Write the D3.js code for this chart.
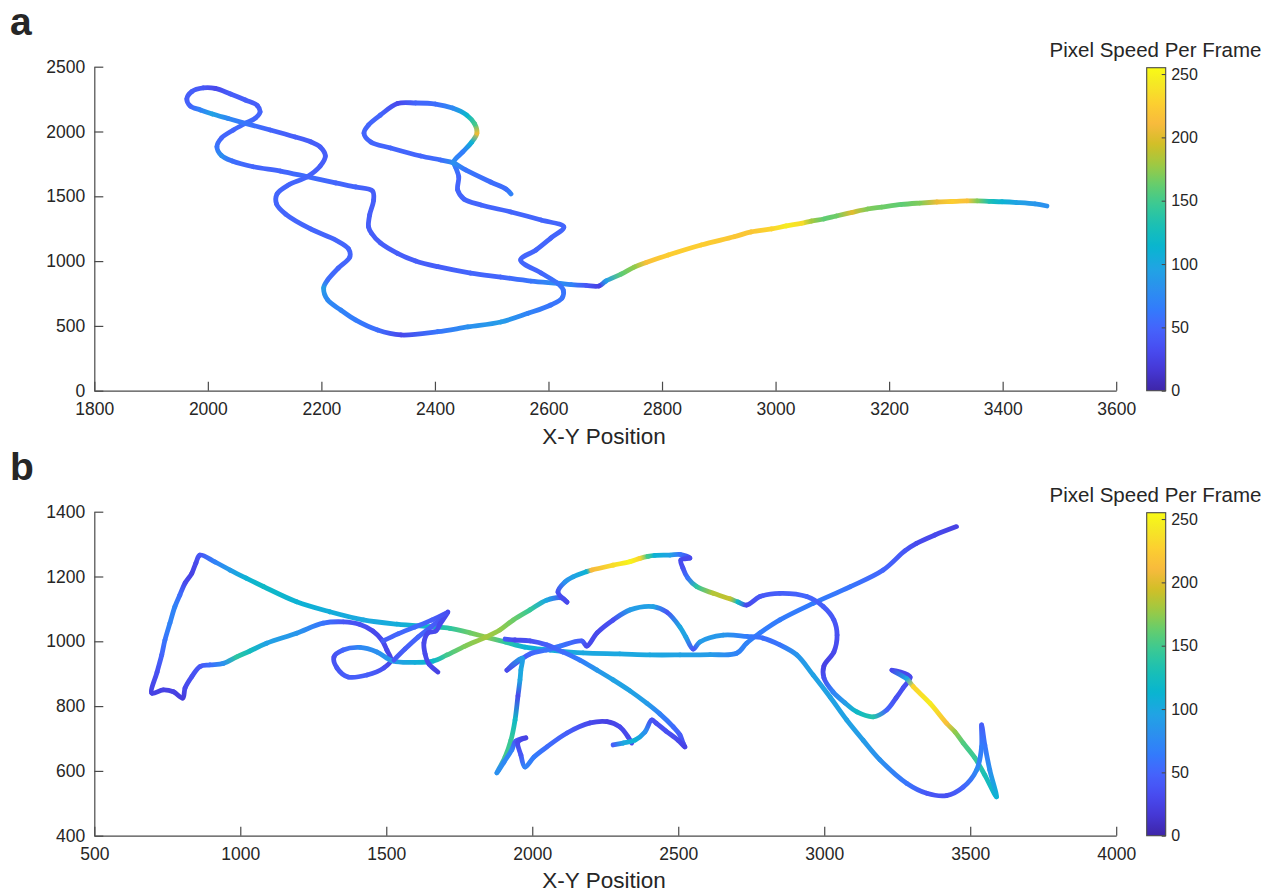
<!DOCTYPE html>
<html><head><meta charset="utf-8">
<script src="https://cdn.jsdelivr.net/npm/d3@7"></script>
<style>
body{margin:0;background:#fff;}
svg text{font-family:"Liberation Sans",Arial,Helvetica,sans-serif;fill:#262626;}
</style></head><body>
<svg id="chart" width="1282" height="892"></svg>
<script>
// ---------------- data ----------------
const speedTicks = [0, 50, 100, 150, 200, 250];
const speedMax = 255;
const aXTicks = [1800, 2000, 2200, 2400, 2600, 2800, 3000, 3200, 3400, 3600];
const aYTicks = [0, 500, 1000, 1500, 2000, 2500];
const bXTicks = [500, 1000, 1500, 2000, 2500, 3000, 3500, 4000];
const bYTicks = [400, 600, 800, 1000, 1200, 1400];

// panel a trajectory
const aX = [3478,3457,3425,3399,3376,3355,3337,3310,3284,3254,
3222,3187,3162,3134,3107,3085,3063,3046,3019,2993,
2957,2927,2869,2811,2772,2751,2728,2701,2689,2666,
2640,2616,2569,2516,2463,2405,2366,2334,2304,2288,
2283,2285,2292,2290,2260,2225,2175,2128,2080,2043,
2024,2016,2024,2045,2066,2084,2092,2087,2066,2040,
2013,1992,1972,1963,1969,1987,2008,2036,2066,2110,
2154,2181,2198,2207,2198,2175,2142,2122,2121,2137,
2181,2225,2248,2250,2230,2211,2204,2211,2234,2260,
2299,2340,2405,2458,2516,2564,2604,2624,2626,2616,
2587,2551,2578,2604,2627,2587,2534,2481,2451,2440,
2442,2437,2433,2449,2465,2474,2470,2456,2431,2401,
2366,2334,2304,2283,2275,2287,2322,2375,2410,2433,
2454,2498,2525,2534];
const aY = [1425,1441,1452,1458,1461,1464,1464,1460,1456,1448,
1437,1417,1402,1375,1348,1325,1309,1292,1271,1248,
1225,1188,1124,1047,989,954,900,846,808,812,
819,829,846,877,908,957,1001,1060,1140,1217,
1265,1356,1471,1541,1572,1603,1651,1695,1728,1772,
1815,1883,1950,2012,2063,2104,2150,2201,2243,2289,
2332,2336,2309,2251,2197,2166,2135,2100,2063,2012,
1958,1921,1880,1811,1734,1651,1587,1518,1441,1363,
1248,1163,1093,1032,947,854,792,700,623,546,
468,430,455,492,530,597,661,715,777,829,
908,1008,1086,1178,1263,1317,1379,1433,1479,1549,
1649,1718,1765,1842,1919,1988,2058,2127,2181,2212,
2220,2216,2127,2050,1988,1919,1873,1811,1780,1757,
1703,1610,1556,1518];
const aSpeed = [80,85,95,110,130,170,215,225,205,170,
160,165,170,200,165,160,180,235,245,230,
220,220,225,225,215,175,160,90,25,40,
70,80,60,50,50,45,45,45,45,45,
45,45,45,45,50,50,55,50,50,55,
80,60,50,50,55,50,50,45,45,45,
30,40,45,45,50,70,95,75,60,50,
45,45,45,45,45,50,50,50,50,50,
50,50,50,50,50,55,90,75,70,65,
55,30,60,80,90,70,60,60,60,60,
50,50,50,50,50,50,50,50,50,50,
50,60,75,65,110,205,150,115,75,55,
50,30,50,50,50,50,50,50,55,80,
60,55,55,70];

// panel b trajectory (bTrack = id of the continuous piece each point belongs to)
const bX = [3453,3379,3316,3276,3202,3088,2962,2848,2780,2734,
2700,2609,2506,2403,2300,2174,2061,1975,1907,1841,
1787,1718,1650,1536,1421,1307,1193,1079,1020,965,
913,862,848,834,811,793,776,759,742,731,
715,697,736,771,803,811,834,862,896,942,
988,1033,1090,1193,1284,1353,1410,1454,1485,1502,
1516,1492,1434,1369,1331,1321,1352,1410,1468,1523,
1598,1660,1708,1770,1841,1889,1935,1992,2049,2102,
2119,2088,2112,2140,2186,2204,2277,2335,2369,2396,
2420,2472,2506,2540,2509,2516,2533,2563,2620,2677,
2705,2734,2780,2848,2940,2997,3033,3044,3033,2999,
2999,3030,3071,3112,3168,3214,3246,3270,3294,3232,
3283,3305,3362,3419,3448,3476,3516,3550,3590,3567,
3550,3539,3539,3522,3476,3419,3351,3282,3191,3133,
3077,3020,2962,2906,2848,2790,2735,2654,2574,2551,
2526,2506,2461,2414,2335,2277,2222,2187,2170,2095,
2049,1992,1913,1965,1961,1958,1951,1941,1927,1907,
1879,1903,1930,1944,1978,1951,1961,1975,2006,2050,
2119,2198,2256,2300,2328,2341,
1907,1941,1992,2049,2105,2163,2222,2277,2335,2392,2437,2483,2506,2517,2523,2499,2458,2424,2409,2386,2352,2311,2277,
1526,1564,1609,1657,1694,1711,1684,1670,1643,1629,1633,1646,1677,
1489,1540,1598,1657,1705];
const bY = [1354,1328,1302,1279,1220,1168,1117,1066,1026,994,
963,959,958,958,961,964,973,982,998,1013,
1026,1040,1045,1053,1066,1091,1122,1169,1195,1220,
1245,1266,1242,1210,1180,1143,1107,1056,1004,958,
905,840,850,844,825,856,891,922,927,932,
952,970,994,1025,1056,1060,1052,1032,1004,973,
942,918,896,890,918,952,973,981,967,939,
935,939,958,985,1013,1035,1066,1097,1127,1134,
1121,1152,1183,1199,1215,1220,1235,1246,1256,1262,
1265,1266,1268,1257,1251,1226,1195,1169,1148,1131,
1121,1112,1138,1148,1138,1107,1066,1019,967,924,
887,844,810,782,767,788,825,856,890,911,
884,860,809,747,720,686,640,587,520,603,
680,742,674,603,550,524,531,562,634,695,
757,828,896,958,989,1010,1015,1019,998,976,
1013,1044,1090,1107,1097,1066,1026,985,1001,985,
973,961,911,948,911,881,831,757,695,643,
594,627,665,692,702,689,649,612,643,674,
717,748,752,736,705,686,
1007,1004,1001,989,967,942,911,881,847,809,776,736,711,685,674,695,723,748,757,720,695,686,680,
942,976,1013,1047,1075,1090,1053,1032,1026,995,961,930,905,
1001,1023,1044,1066,1087];
const bSpeed = [25,30,30,40,50,60,65,65,65,70,
70,90,95,100,100,100,105,110,140,175,
165,140,120,105,100,105,110,120,110,90,
70,40,30,25,30,55,70,70,60,50,
35,25,25,25,20,30,35,40,55,80,
140,125,95,85,60,40,35,30,30,30,
25,35,45,45,40,35,50,75,80,90,
105,115,150,170,180,175,165,145,100,40,
30,35,80,95,110,210,235,250,230,150,
110,95,60,30,30,35,60,140,185,190,
120,30,40,45,50,45,40,35,30,25,
35,70,90,120,135,50,35,35,30,30,
100,230,245,215,175,155,145,130,110,80,
60,45,65,75,50,35,40,60,80,90,
95,95,95,85,60,55,65,85,90,40,
95,100,40,95,90,35,30,30,45,60,
60,50,30,90,100,100,30,120,145,150,
80,75,70,40,25,30,40,70,65,55,
45,30,25,30,30,30,
40,30,35,45,55,65,85,95,95,90,70,55,45,35,25,30,35,35,35,80,110,100,45,
40,45,50,45,35,30,30,30,30,30,30,30,25,
45,50,55,45,35];
const bTrack = [].concat(
  new Array(186).fill(0), new Array(23).fill(1), new Array(13).fill(2), new Array(5).fill(3));

// parula colormap (MATLAB), sampled rows of the 64-entry map
const parulaRows = [1,5,9,13,17,21,25,29,33,37,41,45,49,53,57,61,64];
const parulaHex = ["#3e26a8","#4537d5","#484cf0","#4563fc","#327cfc","#2b91ee","#20a5e3","#08b5d0",
                   "#19bfb6","#37c897","#63cd6f","#9dc943","#d1bf27","#f8ba3d","#fccf30","#f5e924","#f9fb15"];

// ---------------- drawing ----------------
const svg = d3.select("#chart");
const defs = svg.append("defs");
const color = d3.scaleLinear()
  .domain(parulaRows.map(r => (r - 1) / 63 * speedMax))
  .range(parulaHex).clamp(true);

const L = 94.3, R = 1116.2;
const axisColor = "#4a4a4a";

const panels = [
  {name:"a", xs:aX, ys:aY, ss:aSpeed, ids:null, xd:[1800,3600], yd:[0,2500],
   xt:aXTicks, yt:aYTicks, top:66.7, bottom:390.7, labelY:35, titleY:57, xlabY:444},
  {name:"b", xs:bX, ys:bY, ss:bSpeed, ids:bTrack, xd:[500,4000], yd:[400,1400],
   xt:bXTicks, yt:bYTicks, top:511.7, bottom:835.7, labelY:480, titleY:502, xlabY:888}
];

panels.forEach((p, pi) => {
  const x = d3.scaleLinear().domain(p.xd).range([L, R]);
  const y = d3.scaleLinear().domain(p.yd).range([p.bottom, p.top]);
  const g = svg.append("g");

  // axes
  const xa = g.append("g").attr("transform", `translate(0,${p.bottom})`)
    .call(d3.axisBottom(x).tickValues(p.xt).tickFormat(d3.format("d")).tickSize(-9).tickSizeOuter(0).tickPadding(11.5));
  const ya = g.append("g").attr("transform", `translate(${L},0)`)
    .call(d3.axisLeft(y).tickValues(p.yt).tickFormat(d3.format("d")).tickSize(-9).tickSizeOuter(0).tickPadding(9));
  [xa, ya].forEach(a => {
    a.attr("font-family", null).attr("font-size", null);
    a.selectAll("path.domain").attr("stroke", axisColor).attr("stroke-width", 1.2);
    a.selectAll(".tick line").attr("stroke", axisColor).attr("stroke-width", 1.2);
    a.selectAll(".tick text").style("font-size", "17.5px").attr("fill", "#2b2b2b");
  });

  // x label
  g.append("text").attr("x", 604).attr("y", p.xlabY).attr("text-anchor", "middle")
    .style("font-size", "22.5px").text("X-Y Position");
  // panel label
  g.append("text").attr("x", 10).attr("y", p.labelY)
    .style("font-size", "39px").style("font-weight", "bold").attr("fill", "#000").text(p.name);

  // trajectory
  const tg = g.append("g").attr("fill", "none").attr("stroke-linecap", "round").attr("stroke-linejoin", "round");
  const idx = d3.range(p.xs.length);
  const groups = d3.groups(idx, i => p.ids ? p.ids[i] : 0);
  const line = d3.line().curve(d3.curveCatmullRom.alpha(0.5));
  groups.forEach(([id, ii]) => {
    const pts = ii.map(i => [x(p.xs[i]), y(p.ys[i])]);
    const sp = ii.map(i => p.ss[i]);
    const d = line(pts);
    const parts = d.split("C");
    let prev = parts[0].slice(1);
    parts.slice(1).forEach((part, k) => {
      const nums = part.split(",").map(Number);
      const end = nums[4] + "," + nums[5];
      const [x0, y0] = pts[k], [x1, y1] = pts[k + 1];
      const c0 = color(sp[k]), c1 = color(sp[k + 1]);
      let stroke = c0;
      if (Math.hypot(x1 - x0, y1 - y0) > 0.01 && c0 !== c1) {
        const gid = `grad${pi}_${id}_${k}`;
        const lg = defs.append("linearGradient").attr("id", gid).attr("gradientUnits", "userSpaceOnUse")
          .attr("x1", x0).attr("y1", y0).attr("x2", x1).attr("y2", y1);
        lg.append("stop").attr("offset", 0).attr("stop-color", c0);
        lg.append("stop").attr("offset", 1).attr("stop-color", c1);
        stroke = `url(#${gid})`;
      }
      tg.append("path").attr("d", "M" + prev + "C" + part).attr("stroke", stroke).attr("stroke-width", 4.8);
      prev = end;
    });
  });

  // colorbar
  const cbX = 1146.7, cbW = 19;
  const cbTop = p.top + 1, cbBot = p.bottom;
  const cs = d3.scaleLinear().domain([0, speedMax]).range([cbBot, cbTop]);
  const cg = defs.append("linearGradient").attr("id", "cb" + pi)
    .attr("x1", 0).attr("y1", 1).attr("x2", 0).attr("y2", 0);
  d3.range(0, 65).forEach(i => {
    const v = i / 64 * speedMax;
    cg.append("stop").attr("offset", i / 64).attr("stop-color", color(v));
  });
  g.append("rect").attr("x", cbX).attr("y", cbTop).attr("width", cbW).attr("height", cbBot - cbTop)
    .attr("fill", `url(#cb${pi})`).attr("stroke", axisColor).attr("stroke-width", 1.1);
  const ca = g.append("g").attr("transform", `translate(${cbX + cbW},0)`)
    .call(d3.axisRight(cs).tickValues(speedTicks).tickSize(-4).tickSizeOuter(0).tickPadding(5.5));
  ca.attr("font-family", null).attr("font-size", null);
  ca.select("path.domain").remove();
  ca.selectAll(".tick line").attr("stroke", axisColor).attr("stroke-width", 1.1);
  ca.selectAll(".tick text").style("font-size", "16px").attr("fill", "#2b2b2b");
  g.append("text").attr("x", 1155.5).attr("y", p.titleY).attr("text-anchor", "middle")
    .style("font-size", "20.5px").text("Pixel Speed Per Frame");
});
</script>
</body></html>
